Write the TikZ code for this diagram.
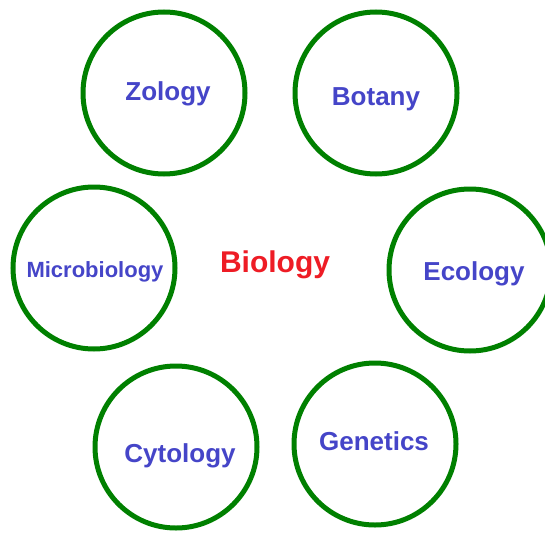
\documentclass[tikz,border=0pt]{standalone}
\usepackage{fontspec}
\setmainfont{Liberation Sans}
\usepackage{tikz}
\definecolor{bgreen}{HTML}{008000}
\definecolor{bblue}{HTML}{4545C8}
\definecolor{bred}{HTML}{EE1C25}

\begin{document}
\begin{tikzpicture}[x=1pt, y=-1pt,
  ring/.style={circle, draw=bgreen, line width=5pt, minimum size=162pt, inner sep=0pt},
  branch/.style={anchor=base, text=bblue, inner sep=0pt, font=\fontsize{26}{30}\selectfont\bfseries},
  hub/.style={anchor=base, text=bred, inner sep=0pt, font=\fontsize{30}{34}\selectfont\bfseries}]

  \useasboundingbox (0,0) rectangle (545,532);

  % -- the six rings round the middle ---------------------------------------
  \foreach \nm/\cx/\cy in {zol/164/93, bot/376/93, mic/94/268, eco/470/270, cyt/176/447, gen/375/444}
    \node[ring] (\nm) at (\cx,\cy) {};

  % -- their names, set on a common baseline --------------------------------
  \foreach \nm/\tx/\ty/\lbl in {zol/168/100/Zology, bot/376/105/Botany, eco/474/280/Ecology,
                                cyt/180/462/Cytology, gen/374/450/Genetics}
    \node[branch] (\nm-lbl) at (\tx,\ty) {\lbl};
  \node[branch, font=\fontsize{22}{26}\selectfont\bfseries] (mic-lbl) at (95,277) {Microbiology};

  % -- the subject in the centre ---------------------------------------------
  \node[hub] (bio) at (275,272) {Biology};

\end{tikzpicture}
\end{document}
